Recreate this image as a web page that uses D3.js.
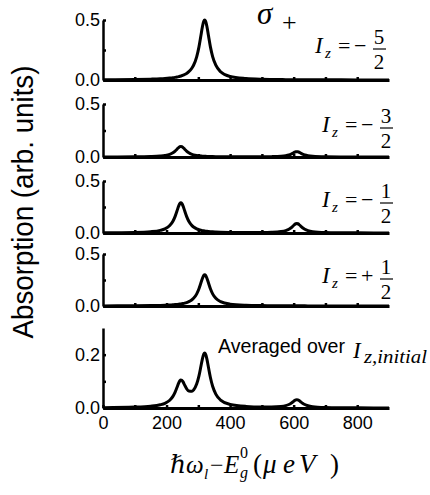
<!DOCTYPE html>
<html>
<head>
<meta charset="utf-8" />
<style type="text/css">
*{margin:0px;padding:0px;}
body{background:#fff;}
svg{display:block;}
.tick text{font-family:"Liberation Sans",Arial,sans-serif;font-size:18px;fill:#000;}
.domain,.tick line{stroke:#000;stroke-width:2.5px;}
.serif{font-family:"Liberation Serif","DejaVu Serif","Times New Roman",serif;fill:#000;}
.sans{font-family:"Liberation Sans",Arial,sans-serif;fill:#000;}
</style>
</head>
<body>
<script src="https://cdn.jsdelivr.net/npm/d3@7"></script>
<script>
var energy = [0, 100, 150, 180, 195, 210, 220, 227, 233, 238, 242, 245, 248, 252, 257, 263, 270, 280, 285, 295,
  302, 308, 313, 317, 320, 323, 327, 332, 338, 345, 355, 370, 400, 450, 500, 530, 560, 575, 585, 592,
  598, 603, 607, 610, 613, 617, 622, 628, 635, 645, 660, 700, 750, 800, 900];

// Iz = -5/2
var absM52 = [0.002, 0.004, 0.007, 0.010, 0.0125, 0.016, 0.019, 0.022, 0.025, 0.028, 0.031, 0.033, 0.036, 0.040, 0.046, 0.055, 0.069, 0.100, 0.123, 0.195,
  0.276, 0.368, 0.446, 0.489, 0.500, 0.489, 0.446, 0.368, 0.276, 0.195, 0.123, 0.069, 0.029, 0.012, 0.006, 0.0045, 0.0035, 0.003, 0.003, 0.0027,
  0.0026, 0.0025, 0.0024, 0.0024, 0.0024, 0.0023, 0.0023, 0.0022, 0.0021, 0.002, 0.0019, 0.0014, 0.0011, 0.0009, 0.0006];
// Iz = -3/2
var absM32 = [0.0007, 0.0019, 0.0043, 0.0087, 0.0138, 0.0246, 0.039, 0.0552, 0.0735, 0.0891, 0.0978, 0.100, 0.0978, 0.0891, 0.0735, 0.0552, 0.039, 0.0246, 0.020, 0.0138,
  0.011, 0.0092, 0.008, 0.0072, 0.0066, 0.0062, 0.0056, 0.005, 0.0044, 0.0039, 0.0032, 0.0025, 0.0021, 0.0017, 0.0022, 0.0034, 0.0073, 0.0127, 0.0198, 0.0279,
  0.0371, 0.0449, 0.0492, 0.0503, 0.0492, 0.0448, 0.037, 0.0279, 0.0198, 0.0126, 0.0072, 0.0025, 0.0011, 0.0006, 0.0003];
// Iz = -1/2
var absM12 = [0.002, 0.0055, 0.0125, 0.0251, 0.040, 0.0713, 0.1131, 0.160, 0.2132, 0.2584, 0.2836, 0.290, 0.2836, 0.2584, 0.2132, 0.160, 0.1131, 0.0713, 0.058, 0.040,
  0.0319, 0.0266, 0.0231, 0.0208, 0.0193, 0.0179, 0.0163, 0.0146, 0.0128, 0.0112, 0.0097, 0.0078, 0.0056, 0.0041, 0.0047, 0.0067, 0.0136, 0.0232, 0.0361, 0.0507,
  0.0672, 0.0811, 0.0889, 0.0909, 0.0889, 0.081, 0.0671, 0.0505, 0.0359, 0.0229, 0.0132, 0.0048, 0.0023, 0.0013, 0.0006];
// Iz = +1/2
var absP12 = [0.0012, 0.0025, 0.0041, 0.006, 0.0075, 0.0096, 0.0116, 0.0133, 0.0151, 0.0168, 0.0185, 0.0199, 0.0215, 0.0239, 0.0275, 0.033, 0.0414, 0.060, 0.0738, 0.117,
  0.1656, 0.2205, 0.2673, 0.2934, 0.300, 0.2934, 0.2673, 0.2205, 0.1656, 0.117, 0.0738, 0.0414, 0.0176, 0.0069, 0.0037, 0.0027, 0.0021, 0.0018, 0.0017, 0.0016,
  0.0015, 0.0015, 0.0015, 0.0015, 0.0015, 0.0014, 0.0014, 0.0014, 0.0014, 0.0012, 0.0011, 0.0008, 0.0007, 0.0005, 0.0004];
// averaged over Iz,initial
var absAvg = [0.0014, 0.0033, 0.0066, 0.012, 0.0177, 0.029, 0.0436, 0.0596, 0.0776, 0.0932, 0.1023, 0.1053, 0.1043, 0.0979, 0.0859, 0.0728, 0.0635, 0.0626, 0.0676, 0.0907,
  0.1205, 0.1554, 0.1855, 0.2022, 0.2061, 0.2013, 0.1834, 0.1516, 0.1145, 0.0815, 0.0521, 0.0299, 0.0136, 0.006, 0.004, 0.0041, 0.0059, 0.0089, 0.0131, 0.018,
  0.0233, 0.028, 0.0306, 0.0313, 0.0306, 0.028, 0.0233, 0.0179, 0.013, 0.0085, 0.0051, 0.0019, 0.0008, 0.0005, 0.0003];

var xTicks = [0, 100, 200, 300, 400, 500, 600, 700, 800];
var xLabels = [0, 200, 400, 600, 800];
var izSigns = ["\u2212", "\u2212", "\u2212", "+"];
var izNums = ["5", "3", "1", "1"];

var svg = d3.select("body").append("svg").attr("width", 430).attr("height", 495);

var x = d3.scaleLinear().domain([0, 900]).range([103, 389]);

var panels = [
  {vals: absM52, top: 20, bottom: 80, max: 0.5, ticks: [0, 0.25, 0.5], labels: [0, 0.5]},
  {vals: absM32, top: 104, bottom: 157, max: 0.5, ticks: [0, 0.25, 0.5], labels: [0, 0.5]},
  {vals: absM12, top: 181, bottom: 233, max: 0.5, ticks: [0, 0.25, 0.5], labels: [0, 0.5]},
  {vals: absP12, top: 254, bottom: 306, max: 0.5, ticks: [0, 0.25, 0.5], labels: [0, 0.5]},
  {vals: absAvg, top: 328, bottom: 408, max: 0.3, ticks: [0, 0.1, 0.2], labels: [0, 0.2]}
];

panels.forEach(function(p, k){
  var y = d3.scaleLinear().domain([0, p.max]).range([p.bottom, p.top]);
  var last = k == panels.length - 1;

  svg.append("g").attr("transform", "translate(103,0)")
    .call(d3.axisLeft(y).tickValues(p.ticks).tickSizeInner(-3).tickSizeOuter(0).tickPadding(3)
      .tickFormat(function(d){ return p.labels.indexOf(d) >= 0 ? d3.format(".1f")(d) : ""; }));

  var xa = svg.append("g").attr("transform", "translate(0," + p.bottom + ")")
    .call(d3.axisBottom(x).tickValues(last ? xTicks : xTicks.slice(1)).tickSizeInner(-3).tickSizeOuter(0).tickPadding(8)
      .tickFormat(function(d){ return last && xLabels.indexOf(d) >= 0 ? d : ""; }));
  xa.select(".domain").style("stroke-width", "3px");

  var line = d3.line()
    .x(function(d, i){ return x(energy[i]); })
    .y(function(d){ return y(d); })
    .curve(d3.curveMonotoneX);

  svg.append("path").datum(p.vals)
    .attr("d", line)
    .attr("fill", "none")
    .attr("stroke", "#000")
    .attr("stroke-width", 3)
    .attr("stroke-linejoin", "round");
});

// Iz = -n/2 labels
var izPos = [[315, 53], [322, 132], [322, 207], [322, 283]];
izPos.forEach(function(pos, k){
  var g = svg.append("g").attr("class", "serif").attr("transform", "translate(" + pos[0] + "," + pos[1] + ")");
  g.append("text").attr("x", 0).attr("y", 0).style("font-size", "23px").style("font-style", "italic").text("I");
  g.append("text").attr("x", 10).attr("y", 5).style("font-size", "15px").style("font-style", "italic").text("z");
  g.append("text").attr("x", 23).attr("y", 0).style("font-size", "22px").text("=");
  g.append("text").attr("x", 39).attr("y", 0).style("font-size", "22px").text(izSigns[k]);
  g.append("text").attr("x", 64).attr("y", -9).attr("text-anchor", "middle").style("font-size", "21px").text(izNums[k]);
  g.append("line").attr("x1", 58).attr("x2", 71).attr("y1", -4).attr("y2", -4).attr("stroke", "#000").attr("stroke-width", 1.2);
  g.append("text").attr("x", 64).attr("y", 16).attr("text-anchor", "middle").style("font-size", "21px").text("2");
});

// sigma+
svg.append("text").attr("class", "serif").attr("x", 257).attr("y", 24)
  .style("font-size", "31px").style("font-style", "italic").text("\u03c3");
svg.append("text").attr("class", "serif").attr("x", 282).attr("y", 31)
  .style("font-size", "26px").text("+");

// averaged label
svg.append("text").attr("class", "sans").attr("x", 218).attr("y", 353)
  .attr("textLength", 127).attr("lengthAdjust", "spacingAndGlyphs")
  .style("font-size", "20px").text("Averaged over");
svg.append("text").attr("class", "serif").attr("x", 353).attr("y", 358).style("font-size", "23px").style("font-style", "italic").text("I");
svg.append("text").attr("class", "serif").attr("x", 364).attr("y", 363)
  .attr("textLength", 63).attr("lengthAdjust", "spacingAndGlyphs")
  .style("font-size", "18px").style("font-style", "italic").text("z,initial");

// y title
svg.append("text").attr("class", "sans")
  .attr("transform", "translate(33,202) rotate(-90)")
  .attr("text-anchor", "middle")
  .attr("textLength", 273).attr("lengthAdjust", "spacingAndGlyphs")
  .style("font-size", "29px")
  .text("Absorption (arb. units)");

// x title
var xt = svg.append("g").attr("class", "serif").style("font-style", "italic");
xt.append("text").attr("x", 170).attr("y", 473).style("font-size", "25px").text("\u210f\u03c9");
xt.append("text").attr("x", 204).attr("y", 479).style("font-size", "15px").text("l");
xt.append("text").attr("x", 210).attr("y", 473).style("font-size", "24px").style("font-style", "normal").text("\u2212");
xt.append("text").attr("x", 224).attr("y", 473).style("font-size", "25px").text("E");
xt.append("text").attr("x", 240).attr("y", 458).style("font-size", "16px").style("font-style", "normal").text("0");
xt.append("text").attr("x", 240).attr("y", 478).style("font-size", "16px").text("g");
var unit = xt.append("text").attr("y", 473).style("font-size", "27px");
unit.append("tspan").attr("x", 253).style("font-style", "normal").text("(");
unit.append("tspan").attr("x", 263).text("\u03bc");
unit.append("tspan").attr("x", 283).text("e");
unit.append("tspan").attr("x", 299).text("V");
unit.append("tspan").attr("x", 330).style("font-style", "normal").text(")");
</script>
</body>
</html>
